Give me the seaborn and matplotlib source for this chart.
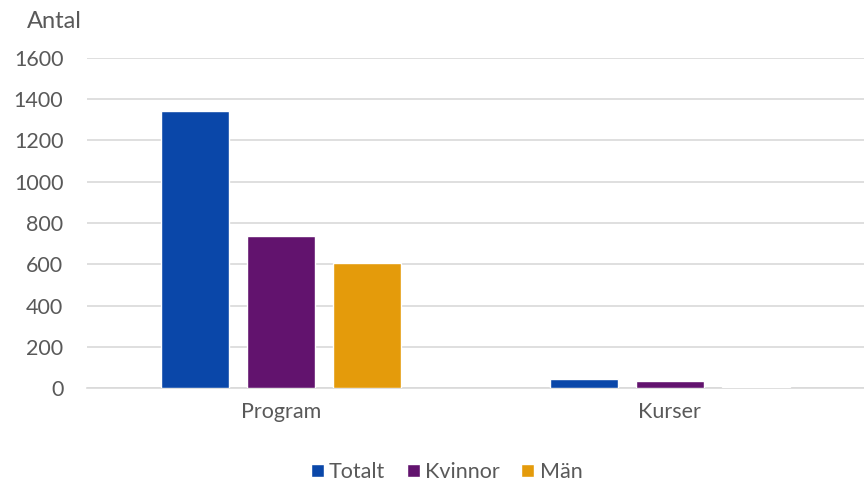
import matplotlib
matplotlib.use("Agg")
import matplotlib.pyplot as plt
import seaborn as sns
import pandas as pd

categories = ["Program", "Kurser"]
series = ["Totalt", "Kvinnor", "Män"]
totalt = [1342, 42]
kvinnor = [736, 34]
man = [606, 7]
colors = ["#0A47A9", "#62136E", "#E49B0B"]
yticks = [0, 200, 400, 600, 800, 1000, 1200, 1400, 1600]

rows = []
for i, c in enumerate(categories):
    for s, vals in zip(series, [totalt, kvinnor, man]):
        rows.append({"Kategori": c, "Serie": s, "Antal": vals[i]})
df = pd.DataFrame(rows)

sns.set_theme(style="white")
plt.rcParams["font.family"] = ["Lato", "DejaVu Sans"]
txt = "#595959"

fig = plt.figure(figsize=(8.64, 4.82), dpi=100)
ax = fig.add_axes([87/864, 1-388/482, 1-87/864, (388-58)/482])
sns.barplot(data=df, x="Kategori", y="Antal", hue="Serie", palette=colors,
            width=0.664, gap=0.209, ax=ax, saturation=1, legend=True, zorder=3)
ax.set_ylim(0, 1600)
ax.set_yticks(yticks)
ax.set_yticklabels([str(v) for v in yticks], fontsize=15.5, color=txt)
ax.set_xlim(-0.5, 1.5)
ax.tick_params(axis="y", length=0, pad=17)
ax.tick_params(axis="x", length=0, pad=10, labelsize=15.5, labelcolor=txt)
ax.set_xlabel("")
ax.set_ylabel("")
ax.yaxis.grid(True, color="#D9D9D9", linewidth=1.2)
ax.set_axisbelow(True)
for sp in ["top", "right", "left"]:
    ax.spines[sp].set_visible(False)
ax.spines["bottom"].set_color("#D9D9D9")
ax.spines["bottom"].set_linewidth(1.2)

fig.text(27/864, 1-22/482, "Antal", fontsize=17, color=txt, va="center", ha="left")

h, l = ax.get_legend_handles_labels()
ax.legend_.remove()
fig.legend(h, l, loc="center", bbox_to_anchor=(446.5/864, 1-472/482), ncol=3, frameon=False,
           fontsize=15.5, labelcolor=txt, handlelength=0.6, handleheight=0.6,
           handletextpad=0.25, columnspacing=1.0, borderaxespad=0, borderpad=0)

fig.savefig("out.png", dpi=100)
